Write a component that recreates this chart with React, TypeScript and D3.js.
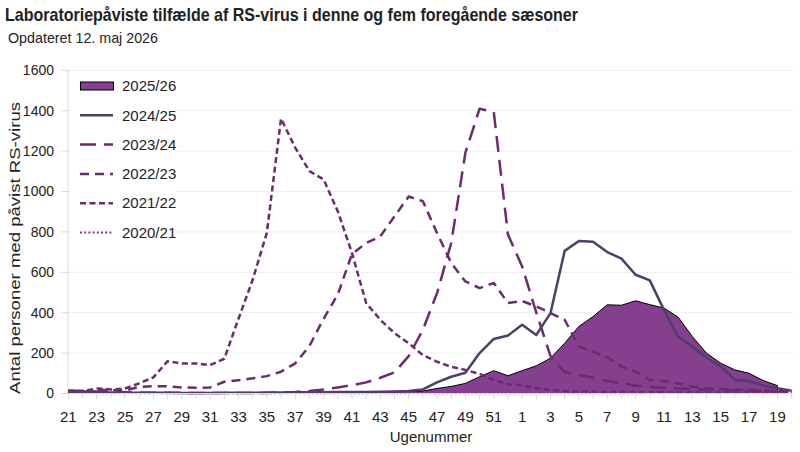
import React from "react";
import * as d3 from "d3";

// week categories: season runs week 21 -> week 20
const weeks: number[] = [
  21, 22, 23, 24, 25, 26, 27, 28, 29, 30, 31, 32, 33, 34, 35, 36, 37, 38, 39, 40,
  41, 42, 43, 44, 45, 46, 47, 48, 49, 50, 51, 52, 1, 2, 3, 4, 5, 6, 7, 8, 9, 10,
  11, 12, 13, 14, 15, 16, 17, 18, 19, 20,
];

const s2025: (number | null)[] = [
  5, 5, 4, 4, 4, 4, 4, 3, 3, 3, 3, 3, 3, 3, 3, 4, 4, 4, 5, 5, 6, 6, 7, 8, 10, 12,
  25, 35, 50, 83, 113, 88, 113, 137, 175, 249, 332, 381, 439, 437, 459, 440, 423,
  378, 282, 200, 150, 117, 100, 64, 39, null,
];
const s2024: number[] = [
  8, 6, 5, 5, 4, 4, 4, 4, 3, 3, 3, 4, 4, 4, 5, 5, 6, 6, 6, 7, 7, 8, 9, 10, 12, 20,
  55, 83, 103, 200, 270, 287, 340, 290, 398, 706, 755, 751, 700, 668, 588, 560,
  414, 282, 232, 178, 135, 67, 62, 39, 26, 14,
];
const s2023: number[] = [
  15, 12, 10, 8, 6, 5, 4, 4, 3, 3, 3, 3, 3, 3, 3, 6, 8, 12, 20, 30, 41, 55, 78,
  105, 185, 315, 497, 745, 1192, 1410, 1394, 787, 629, 400, 185, 106, 92, 78, 62,
  50, 40, 32, 28, 25, 22, 20, 18, 16, 14, 12, 10, 8,
];
const s2022: number[] = [
  8, 8, 17, 17, 15, 33, 36, 36, 30, 28, 30, 58, 66, 75, 86, 108, 149, 235, 370,
  490, 690, 745, 778, 877, 975, 952, 795, 646, 555, 522, 547, 448, 458, 431, 398,
  365, 232, 207, 180, 133, 108, 67, 62, 50, 34, 26, 22, 20, 18, 15, 12, 10,
];
const s2021: number[] = [
  12, 12, 25, 20, 25, 50, 80, 160, 149, 149, 141, 172, 370, 563, 795, 1361, 1217,
  1101, 1060, 902, 696, 448, 365, 299, 249, 190, 157, 132, 117, 97, 67, 46, 42,
  26, 18, 12, 10, 8, 8, 7, 7, 6, 6, 5, 5, 5, 5, 5, 5, 4, 4, 4,
];
const s2020: number[] = [
  2, 2, 2, 1, 1, 1, 1, 1, 1, 1, 1, 1, 1, 1, 1, 1, 1, 1, 1, 1, 1, 1, 1, 1, 1, 1, 1,
  1, 1, 1, 1, 1, 1, 1, 1, 1, 1, 1, 1, 1, 1, 2, 2, 2, 3, 3, 4, 5, 6, 7, 8, 9,
];

const yTicks = [0, 200, 400, 600, 800, 1000, 1200, 1400, 1600];

const FONT = "'Liberation Sans Narrow', 'Liberation Sans', sans-serif";
const LINE = "#6b2c6e";

const lineSeries = [
  { label: "2020/21", values: s2020, color: "#7a3a82", dash: "2 2.2", width: 2 },
  { label: "2021/22", values: s2021, color: LINE, dash: "6 3.5", width: 2.5 },
  { label: "2022/23", values: s2022, color: LINE, dash: "9 6", width: 2.5 },
  { label: "2023/24", values: s2023, color: LINE, dash: "16 8", width: 2.5 },
  { label: "2024/25", values: s2024, color: "#503d68", dash: "none", width: 2.5 },
];

const legendItems = ["2025/26", "2024/25", "2023/24", "2022/23", "2021/22", "2020/21"];

const App = () => {
  const x = d3
    .scalePoint<string>()
    .domain(weeks.map(String))
    .range([68.3, 791.6]);
  const y = d3.scaleLinear().domain([0, 1600]).range([393.5, 70.3]);

  const xi = (i: number) => x(String(weeks[i])) as number;

  const area = d3
    .area<number | null>()
    .defined((d) => d !== null)
    .x((_, i) => xi(i))
    .y0(y(0))
    .y1((d) => y(d as number));

  const line = d3
    .line<number>()
    .x((_, i) => xi(i))
    .y((d) => y(d));

  const legendY = (i: number) => 86 + i * 29.3;
  const legendStyle = (label: string) => lineSeries.find((s) => s.label === label);

  return (
    <svg
      width={800}
      height={452}
      style={{ position: "absolute", left: 0, top: 0, background: "#fff" }}
      fontFamily={FONT}
    >
      <text x={5} y={21} fontSize={19} fontWeight="bold" fill="#222" textLength={573} lengthAdjust="spacingAndGlyphs">
        Laboratoriepåviste tilfælde af RS-virus i denne og fem foregående sæsoner
      </text>
      <text x={8} y={43} fontSize={15} fill="#222" textLength={150} lengthAdjust="spacingAndGlyphs">
        Opdateret 12. maj 2026
      </text>

      {/* grid + y axis */}
      {yTicks.map((t) => (
        <g key={t}>
          {t > 0 && <line x1={68} x2={793} y1={y(t)} y2={y(t)} stroke="#eeeeee" strokeWidth={1} />}
          <line x1={61} x2={68} y1={y(t)} y2={y(t)} stroke="#d9d9d9" strokeWidth={1} />
          <text x={54} y={y(t)} dy="0.35em" textAnchor="end" fontSize={14} fill="#222">
            {t}
          </text>
        </g>
      ))}
      <line x1={68} x2={68} y1={70} y2={393.5} stroke="#d9d9d9" strokeWidth={1} />

      <text
        transform={`translate(20,248) rotate(-90)`}
        textAnchor="middle"
        fontSize={14}
        fill="#222"
        textLength={292}
        lengthAdjust="spacingAndGlyphs"
      >
        Antal personer med påvist RS-virus
      </text>

      {/* series */}
      <path d={area(s2025) || ""} fill="#843f8e" stroke="#000" strokeWidth={1} />
      {lineSeries.map((s) => (
        <path
          key={s.label}
          d={line(s.values) || ""}
          fill="none"
          stroke={s.color}
          strokeWidth={s.width}
          strokeDasharray={s.dash}
          strokeLinejoin="round"
        />
      ))}

      {/* x axis */}
      <line x1={68} x2={793} y1={393.5} y2={393.5} stroke="#d9d9d9" strokeWidth={1} />
      {weeks.map((w, i) => (
        <g key={w}>
          <line x1={xi(i)} x2={xi(i)} y1={393.5} y2={399} stroke="#d9d9d9" strokeWidth={1} />
          {i % 2 === 0 && (
            <text x={xi(i)} y={422} textAnchor="middle" fontSize={15} fill="#222">
              {w}
            </text>
          )}
        </g>
      ))}
      <text x={431} y={442} textAnchor="middle" fontSize={15} fill="#222">
        Ugenummer
      </text>

      {/* legend */}
      <rect x={70} y={72} width={106} height={174} fill="#fff" />
      {legendItems.map((label, i) => {
        const ly = legendY(i);
        const s = legendStyle(label);
        return (
          <g key={label}>
            {s ? (
              <line
                x1={80}
                x2={113}
                y1={ly}
                y2={ly}
                stroke={s.color}
                strokeWidth={s.width}
                strokeDasharray={s.dash}
              />
            ) : (
              <rect x={80.5} y={ly - 4} width={33} height={8} fill="#843f8e" stroke="#000" strokeWidth={1} />
            )}
            <text x={122} y={ly} dy="0.35em" fontSize={15} fill="#222">
              {label}
            </text>
          </g>
        );
      })}
    </svg>
  );
};

export default App;
